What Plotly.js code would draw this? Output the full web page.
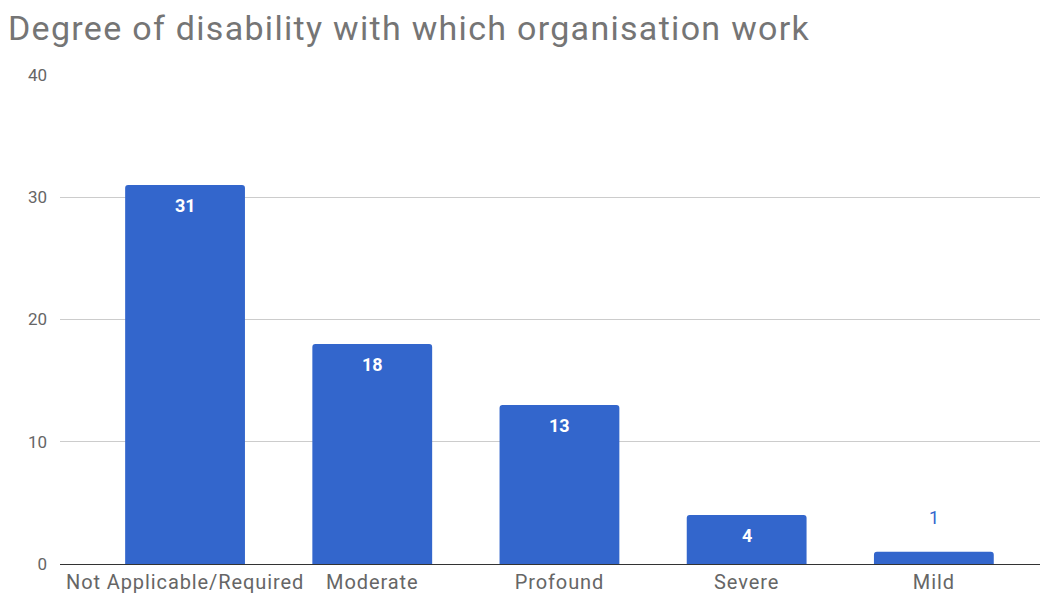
<!DOCTYPE html>
<html>
<head>
<meta charset="utf-8">
<script src="https://cdn.plot.ly/plotly-3.0.1.min.js"></script>
<style>
html,body{margin:0;padding:0;background:#fff;}
#chart{width:1047px;height:594px;}
#chart .gtitle{letter-spacing:1.3px;}
#chart .xtick text{letter-spacing:0.9px;}
</style>
</head>
<body>
<div id="chart"></div>
<script>
var categories = ["Not Applicable/Required", "Moderate", "Profound", "Severe", "Mild"];
var counts = [31, 18, 13, 4, 1];
var yTicks = [0, 10, 20, 30, 40];

var barColor = "#3366cc";

var annotations = categories.map(function (c, i) {
  var inside = counts[i] >= 3;
  return {
    x: c, y: counts[i], xref: "x", yref: "y",
    text: String(counts[i]),
    showarrow: false,
    yanchor: inside ? "top" : "bottom",
    yshift: inside ? -8 : 22,
    font: {family: "Roboto, Arial, sans-serif", size: 18, color: inside ? "#ffffff" : barColor, weight: inside ? "bold" : "normal"}
  };
});

var trace = {
  type: "bar",
  x: categories,
  y: counts,
  width: 0.64,
  marker: {color: barColor, cornerradius: 3},
  hoverinfo: "x+y"
};

var layout = {
  width: 1047, height: 594,
  margin: {l: 60, r: 7, t: 75, b: 30, pad: 0},
  paper_bgcolor: "#ffffff", plot_bgcolor: "#ffffff",
  font: {family: "Roboto, Arial, sans-serif", color: "#666666"},
  title: {
    text: "Degree of disability with which organisation work",
    x: 0, xref: "paper", xanchor: "left",
    y: 0.953, yref: "container", yanchor: "middle",
    pad: {l: -52},
    font: {family: "Roboto, Arial, sans-serif", size: 34, color: "#757575"}
  },
  xaxis: {
    type: "category",
    range: [-0.668, 4.567],
    showgrid: false,
    showline: true, linecolor: "#333333", linewidth: 1,
    ticks: "",
    tickfont: {size: 20, color: "#666666"},
    fixedrange: true
  },
  yaxis: {
    range: [0, 40],
    tickvals: yTicks,
    ticktext: yTicks.map(String),
    showgrid: true, gridcolor: "#cccccc", gridwidth: 1,
    zeroline: false,
    showline: false,
    ticks: "",
    ticklabelstandoff: 12,
    tickfont: {size: 17, color: "#666666"},
    fixedrange: true
  },
  annotations: annotations,
  showlegend: false,
  bargap: 0.36
};

Plotly.newPlot("chart", [trace], layout, {displayModeBar: false, staticPlot: true});
</script>
</body>
</html>
